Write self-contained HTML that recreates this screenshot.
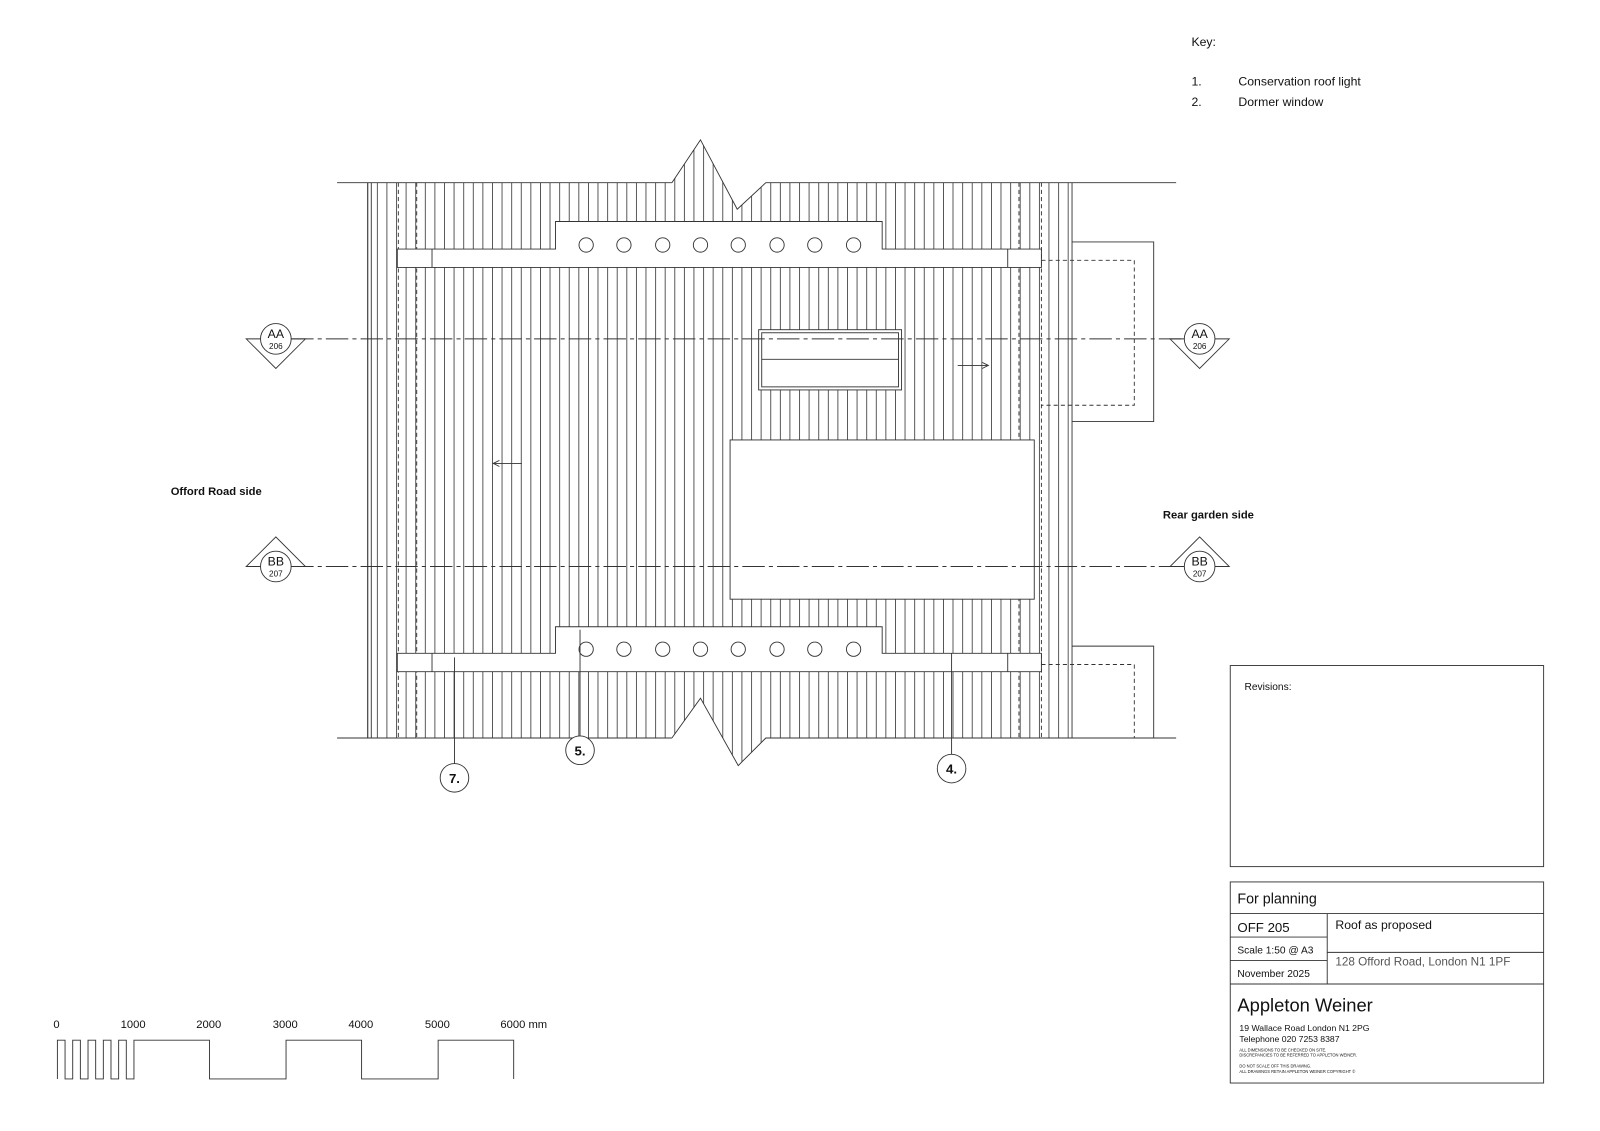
<!DOCTYPE html>
<html><head><meta charset="utf-8"><style>
html,body{margin:0;padding:0;background:#fff;}
svg{display:block;}
text{font-family:"Liberation Sans",sans-serif;fill:#111;}
</style></head><body>
<svg width="1600" height="1131" viewBox="0 0 1567 1108" xmlns="http://www.w3.org/2000/svg">
<defs>
<pattern id="h" patternUnits="userSpaceOnUse" x="369" y="0" width="9.4" height="20">
<line x1="0.4" y1="0" x2="0.4" y2="20" stroke="#333" stroke-width="0.8"/>
</pattern>
<clipPath id="roof"><polygon points="355,179 658,179 686,137 722,205 750,179 1052,179 1052,723 750,723 723,750 686,684 658,723 355,723"/></clipPath>
</defs>
<g fill="none" stroke="#333" stroke-width="0.9">
<!-- hatch -->
<rect x="355" y="130" width="700" height="630" fill="url(#h)" stroke="none" clip-path="url(#roof)"/>
<line x1="360" y1="179" x2="360" y2="723"/><line x1="363.5" y1="179" x2="363.5" y2="723"/>
<line x1="1050" y1="179" x2="1050" y2="723"/>
<!-- outline -->
<line x1="330" y1="179" x2="658" y2="179"/><polyline points="658,179 686,137 722,205 750,179 1152,179"/>
<line x1="330" y1="723" x2="658" y2="723"/><polyline points="658,723 686,684 723,750 750,723 1152,723"/>
<!-- dashed verticals -->
<g stroke-dasharray="4,3"><line x1="390" y1="179" x2="390" y2="723"/><line x1="408" y1="179" x2="408" y2="723"/>
<line x1="998" y1="179" x2="998" y2="723"/><line x1="1020" y1="179" x2="1020" y2="723"/></g>
<!-- top dormer -->
<polygon points="389,244 544,244 544,217 864,217 864,244 1020,244 1020,262 389,262" fill="#fff"/>
<line x1="423" y1="244" x2="423" y2="262"/><line x1="987" y1="244" x2="987" y2="262"/>
<g><circle cx="574" cy="240" r="7"/><circle cx="611" cy="240" r="7"/><circle cx="649" cy="240" r="7"/><circle cx="686" cy="240" r="7"/><circle cx="723" cy="240" r="7"/><circle cx="761" cy="240" r="7"/><circle cx="798" cy="240" r="7"/><circle cx="836" cy="240" r="7"/></g>
<!-- bottom dormer -->
<polygon points="389,640 544,640 544,614 864,614 864,640 1020,640 1020,658 389,658" fill="#fff"/>
<line x1="423" y1="640" x2="423" y2="658"/><line x1="987" y1="640" x2="987" y2="658"/>
<g><circle cx="574" cy="636" r="7"/><circle cx="611" cy="636" r="7"/><circle cx="649" cy="636" r="7"/><circle cx="686" cy="636" r="7"/><circle cx="723" cy="636" r="7"/><circle cx="761" cy="636" r="7"/><circle cx="798" cy="636" r="7"/><circle cx="836" cy="636" r="7"/></g>
<!-- roof light -->
<rect x="743" y="323" width="140" height="59" fill="#fff"/><rect x="746" y="326" width="134" height="53"/><line x1="746" y1="352" x2="880" y2="352"/>
<!-- big rect -->
<rect x="715" y="431" width="298" height="156" fill="#fff"/>
<!-- right projections -->
<polyline points="1050,237 1130,237 1130,413 1050,413"/>
<polyline points="1020,255 1111,255 1111,397 1020,397" stroke-dasharray="4,3"/>
<polyline points="1050,633 1130,633 1130,723"/>
<polyline points="1020,651 1111,651 1111,723" stroke-dasharray="4,3"/>
<!-- section lines -->
<g stroke-dasharray="22,4,4,4"><line x1="285" y1="332" x2="1160" y2="332"/><line x1="285" y1="555" x2="1160" y2="555"/></g>
<polygon points="241,332 299,332 270,361"/><circle cx="270" cy="332" r="15" fill="#fff"/>
<polygon points="1146,332 1204,332 1175,361"/><circle cx="1175" cy="332" r="15" fill="#fff"/>
<polygon points="241,555 299,555 270,526"/><circle cx="270" cy="555" r="15" fill="#fff"/>
<polygon points="1146,555 1204,555 1175,526"/><circle cx="1175" cy="555" r="15" fill="#fff"/>
<!-- arrows -->
<line x1="483" y1="454" x2="511" y2="454"/><polyline points="489,451 483,454 489,457"/>
<line x1="938" y1="358" x2="968" y2="358"/><polyline points="962,355 968,358 962,361"/>
<!-- callouts -->
<line x1="445" y1="644" x2="445" y2="748"/><circle cx="445" cy="762" r="14" fill="#fff"/>
<line x1="568" y1="617" x2="568" y2="721"/><circle cx="568" cy="735" r="14" fill="#fff"/>
<line x1="932" y1="640" x2="932" y2="739"/><circle cx="932" cy="753" r="14" fill="#fff"/>
<!-- revisions & title -->
<rect x="1205" y="652" width="307" height="197"/>
<rect x="1205" y="864" width="307" height="197"/>
<line x1="1205" y1="895" x2="1512" y2="895"/><line x1="1205" y1="964" x2="1512" y2="964"/>
<line x1="1300" y1="895" x2="1300" y2="964"/><line x1="1205" y1="918" x2="1300" y2="918"/><line x1="1205" y1="941" x2="1300" y2="941"/>
<line x1="1300" y1="933" x2="1512" y2="933"/>
<!-- scale bar -->
<polyline points="56,1057 56,1019 63.5,1019 63.5,1057 71,1057 71,1019 78.5,1019 78.5,1057 86,1057 86,1019 93.5,1019 93.5,1057 101,1057 101,1019 108.5,1019 108.5,1057 116,1057 116,1019 123.5,1019 123.5,1057 131,1057 131,1019 205,1019 205,1057 280,1057 280,1019 354,1019 354,1057 429,1057 429,1019 503,1019 503,1057"/>
</g>
<g text-anchor="middle">
<text x="270" y="331" font-size="12">AA</text><text x="270" y="342" font-size="8">206</text>
<text x="1175" y="331" font-size="12">AA</text><text x="1175" y="342" font-size="8">206</text>
<text x="270" y="554" font-size="12">BB</text><text x="270" y="565" font-size="8">207</text>
<text x="1175" y="554" font-size="12">BB</text><text x="1175" y="565" font-size="8">207</text>
<text x="445" y="767" font-size="13" font-weight="bold">7.</text>
<text x="568" y="740" font-size="13" font-weight="bold">5.</text>
<text x="932" y="758" font-size="13" font-weight="bold">4.</text>
</g>
<text x="167" y="485" font-size="11" font-weight="bold">Offord Road side</text>
<text x="1139" y="508" font-size="11" font-weight="bold">Rear garden side</text>
<text x="1167" y="45" font-size="12">Key:</text>
<text x="1167" y="84" font-size="12">1.</text><text x="1213" y="84" font-size="12">Conservation roof light</text>
<text x="1167" y="104" font-size="12">2.</text><text x="1213" y="104" font-size="12">Dormer window</text>
<text x="1219" y="676" font-size="10">Revisions:</text>
<text x="1212" y="885" font-size="14">For planning</text>
<text x="1212" y="913" font-size="13">OFF 205</text>
<text x="1212" y="934" font-size="10">Scale 1:50 @ A3</text>
<text x="1212" y="957" font-size="10">November 2025</text>
<text x="1308" y="910" font-size="12">Roof as proposed</text>
<text x="1308" y="946" font-size="11.5" fill="#555" style="fill:#555">128 Offord Road, London N1 1PF</text>
<text x="1212" y="991" font-size="18">Appleton Weiner</text>
<text x="1214" y="1010" font-size="8.5">19 Wallace Road  London N1 2PG</text>
<text x="1214" y="1021" font-size="8.5">Telephone 020 7253 8387</text>
<text x="1214" y="1030" font-size="4">ALL DIMENSIONS TO BE CHECKED ON SITE.</text>
<text x="1214" y="1035" font-size="4">DISCREPANCIES TO BE REFERRED TO APPLETON WEINER.</text>
<text x="1214" y="1046" font-size="4">DO NOT SCALE OFF THIS DRAWING.</text>
<text x="1214" y="1051" font-size="4">ALL DRAWINGS RETAIN APPLETON WEINER COPYRIGHT ©</text>
<g font-size="11">
<text x="52" y="1007">0</text><text x="118" y="1007">1000</text><text x="192" y="1007">2000</text><text x="267" y="1007">3000</text><text x="341" y="1007">4000</text><text x="416" y="1007">5000</text><text x="490" y="1007">6000 mm</text>
</g>
</svg>
</body></html>
